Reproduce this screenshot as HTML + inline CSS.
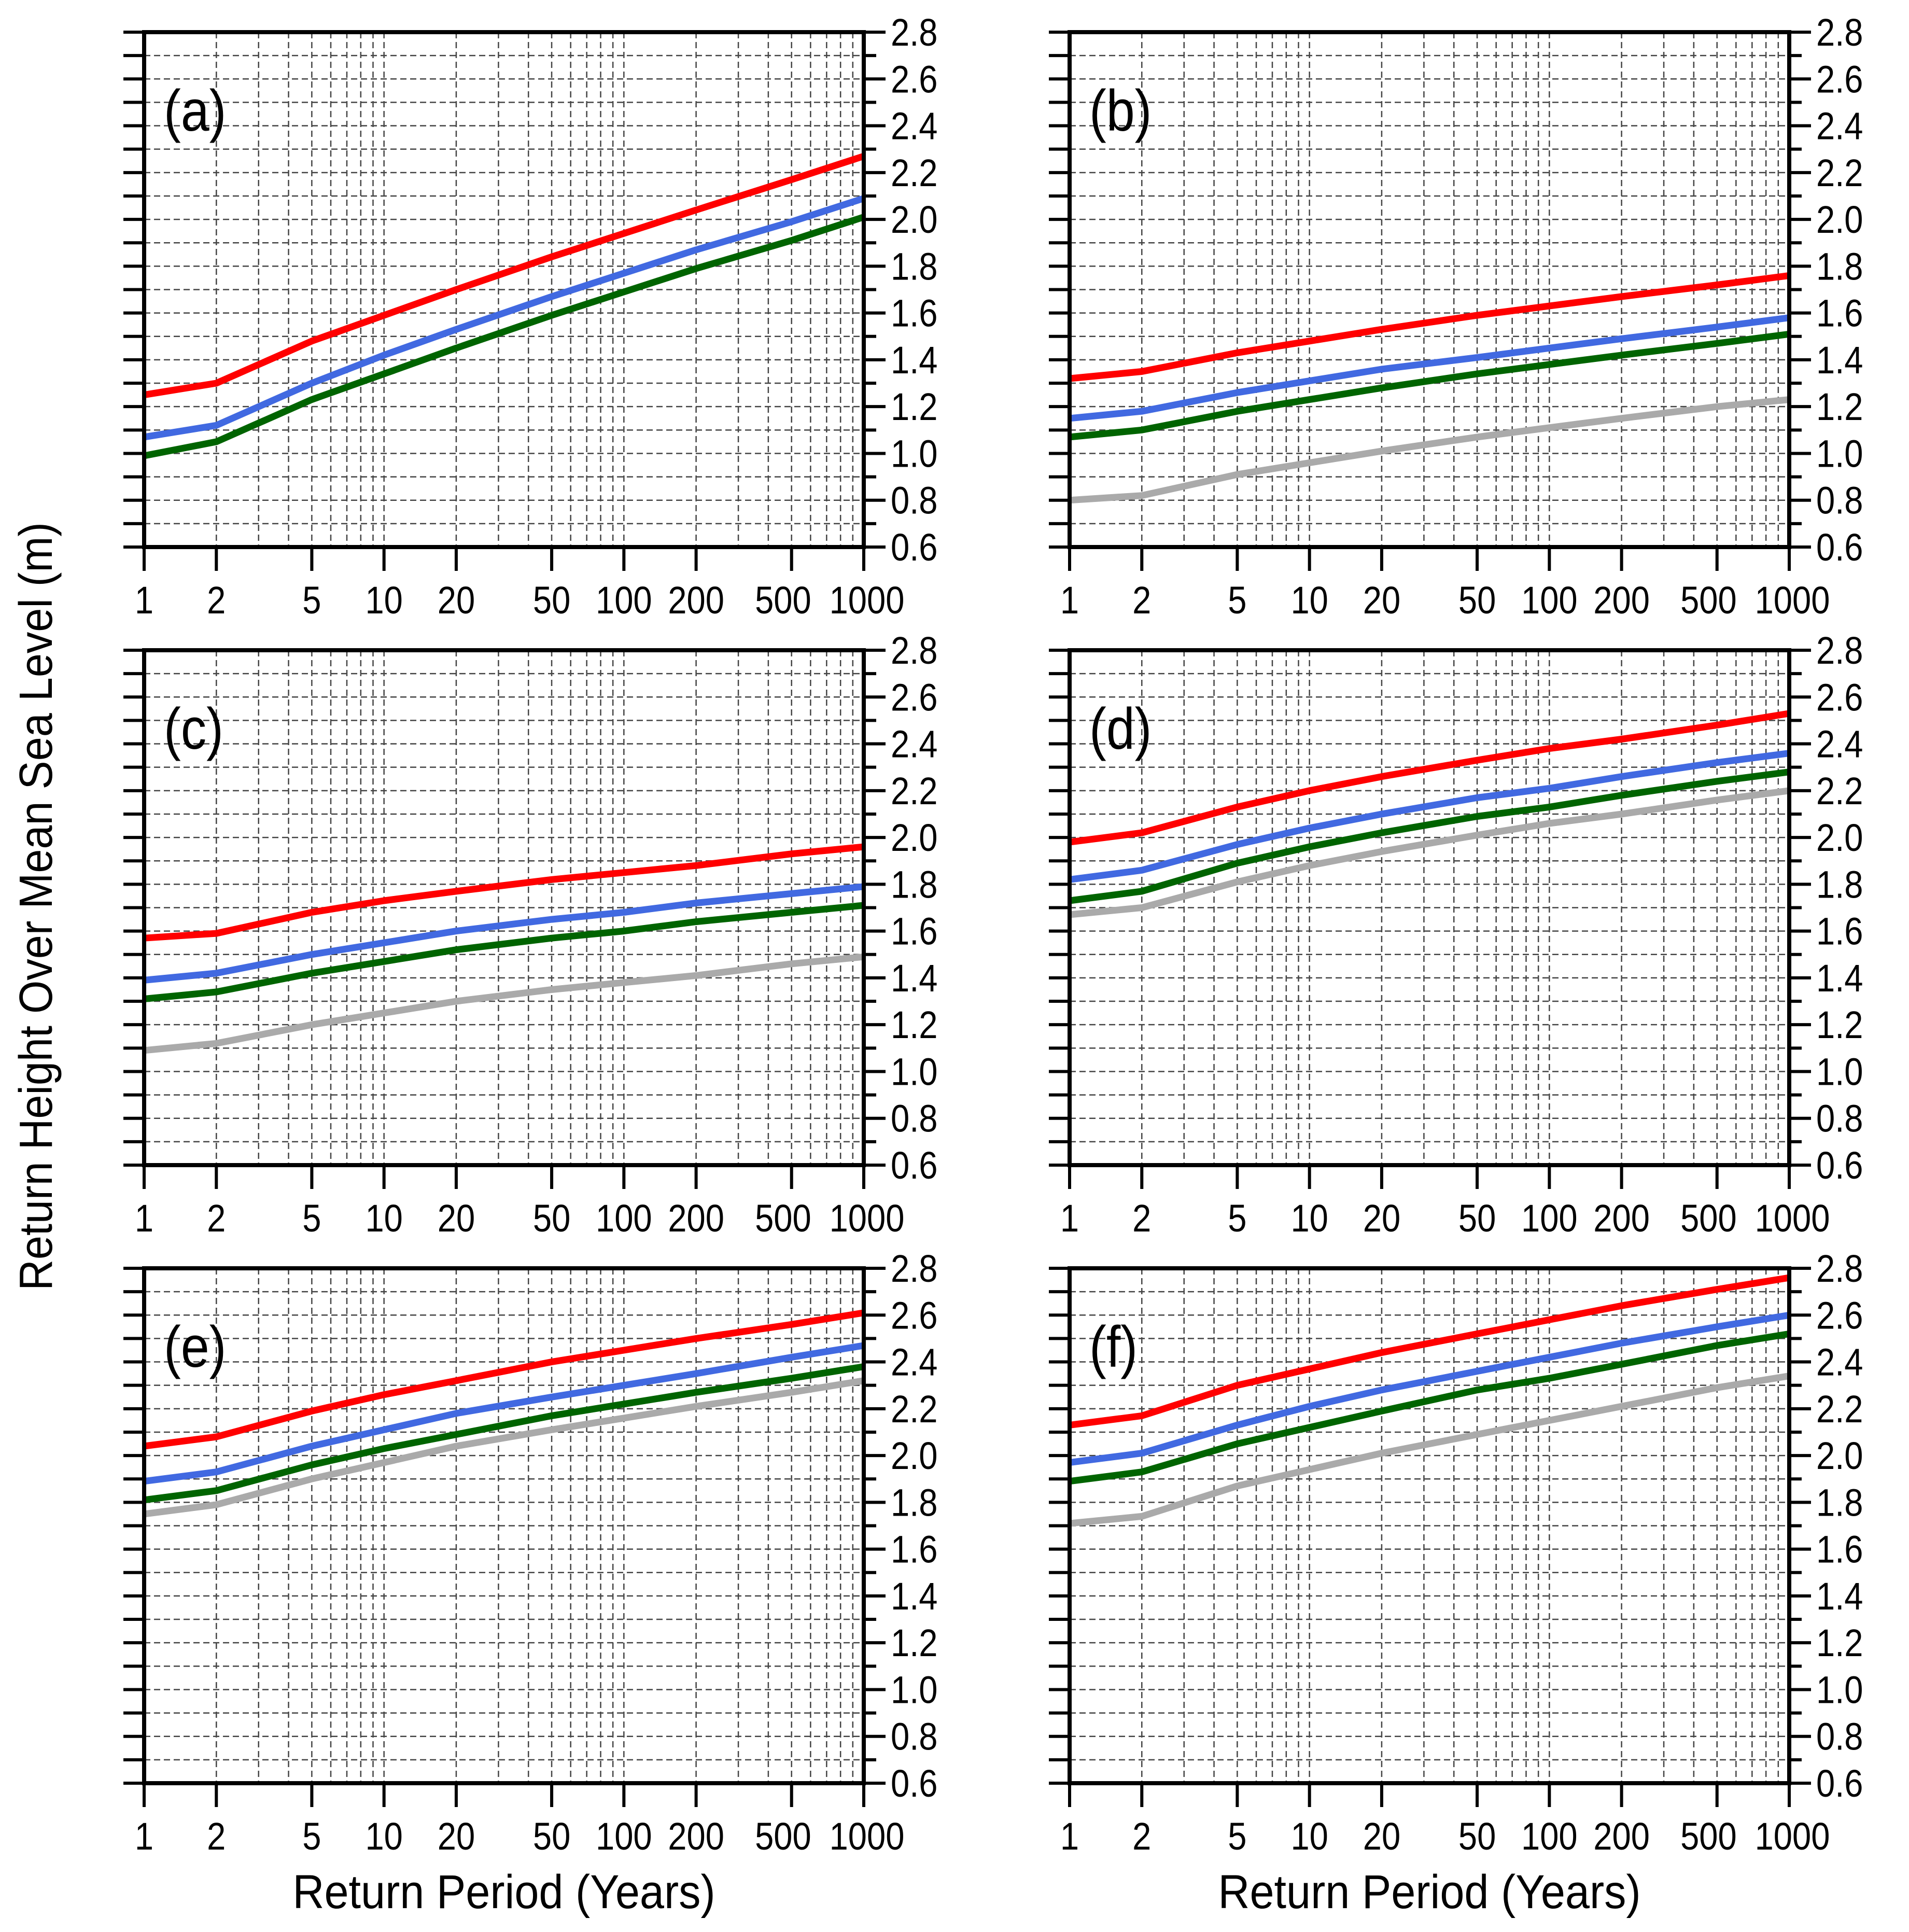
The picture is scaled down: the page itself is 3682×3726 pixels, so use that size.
<!DOCTYPE html>
<html><head><meta charset="utf-8"><style>
html,body{margin:0;padding:0;background:#fff;}
svg{display:block;}
text{font-family:"Liberation Sans",sans-serif;fill:#000;}
</style></head><body>
<svg id="fig" xmlns="http://www.w3.org/2000/svg" width="3682" height="3726" viewBox="0 0 3682 3726">
<text x="0" y="0" font-size="90" text-anchor="middle" transform="translate(100,1748) rotate(-90) scale(0.92,1)">Return Height Over Mean Sea Level (m)</text>
<text x="0" y="0" font-size="92" text-anchor="middle" transform="translate(972,3680) scale(0.92,1)">Return Period (Years)</text>
<text x="0" y="0" font-size="92" text-anchor="middle" transform="translate(2757,3680) scale(0.92,1)">Return Period (Years)</text>
</svg>
<script>
const periods = [1,2,5,10,20,50,100,200,500,1000];
const xTickLabels = [1,2,5,10,20,50,100,200,500,1000];
const yTickLabels = ["0.6","0.8","1.0","1.2","1.4","1.6","1.8","2.0","2.2","2.4","2.6","2.8"];
const panelLabels = ["(a)","(b)","(c)","(d)","(e)","(f)"];
const redA   = [1.25,1.30,1.48,1.59,1.70,1.84,1.94,2.04,2.17,2.27];
const blueA  = [1.07,1.12,1.30,1.42,1.53,1.67,1.77,1.87,1.99,2.09];
const greenA = [0.99,1.05,1.23,1.34,1.45,1.59,1.69,1.79,1.91,2.01];
const grayA  = null;
const redB   = [1.32,1.35,1.43,1.48,1.53,1.59,1.63,1.67,1.72,1.76];
const blueB  = [1.15,1.18,1.26,1.31,1.36,1.41,1.45,1.49,1.54,1.58];
const greenB = [1.07,1.10,1.18,1.23,1.28,1.34,1.38,1.42,1.47,1.51];
const grayB  = [0.80,0.82,0.91,0.96,1.01,1.07,1.11,1.15,1.20,1.23];
const redC   = [1.57,1.59,1.68,1.73,1.77,1.82,1.85,1.88,1.93,1.96];
const blueC  = [1.39,1.42,1.50,1.55,1.60,1.65,1.68,1.72,1.76,1.79];
const greenC = [1.31,1.34,1.42,1.47,1.52,1.57,1.60,1.64,1.68,1.71];
const grayC  = [1.09,1.12,1.20,1.25,1.30,1.35,1.38,1.41,1.46,1.49];
const redD   = [1.98,2.02,2.13,2.20,2.26,2.33,2.38,2.42,2.48,2.53];
const blueD  = [1.82,1.86,1.97,2.04,2.10,2.17,2.21,2.26,2.32,2.36];
const greenD = [1.73,1.77,1.89,1.96,2.02,2.09,2.13,2.18,2.24,2.28];
const grayD  = [1.67,1.70,1.81,1.88,1.94,2.01,2.06,2.10,2.16,2.20];
const redE   = [2.04,2.08,2.19,2.26,2.32,2.40,2.45,2.50,2.56,2.61];
const blueE  = [1.89,1.93,2.04,2.11,2.18,2.25,2.30,2.35,2.42,2.47];
const greenE = [1.81,1.85,1.96,2.03,2.09,2.17,2.22,2.27,2.33,2.38];
const grayE  = [1.75,1.79,1.90,1.97,2.04,2.11,2.16,2.21,2.27,2.32];
const redF   = [2.13,2.17,2.30,2.37,2.44,2.52,2.58,2.64,2.71,2.76];
const blueF  = [1.97,2.01,2.13,2.21,2.28,2.36,2.42,2.48,2.55,2.60];
const greenF = [1.89,1.93,2.05,2.12,2.19,2.28,2.33,2.39,2.47,2.52];
const grayF  = [1.71,1.74,1.87,1.94,2.01,2.09,2.15,2.21,2.29,2.34];

const NS="http://www.w3.org/2000/svg";
const svg=document.getElementById('fig');
function mk(tag,attrs,parent){const e=document.createElementNS(NS,tag);for(const k in attrs)e.setAttribute(k,attrs[k]);(parent||svg).appendChild(e);return e;}

const panels=[
 {lab:panelLabels[0],x0:278,y0:62,s:[[greenA,'#006400','green'],[blueA,'#4169e1','blue'],[redA,'#ff0000','red']]},
 {lab:panelLabels[1],x0:2063,y0:62,s:[[grayB,'#aaaaaa','gray'],[greenB,'#006400','green'],[blueB,'#4169e1','blue'],[redB,'#ff0000','red']]},
 {lab:panelLabels[2],x0:278,y0:1254,s:[[grayC,'#aaaaaa','gray'],[greenC,'#006400','green'],[blueC,'#4169e1','blue'],[redC,'#ff0000','red']]},
 {lab:panelLabels[3],x0:2063,y0:1254,s:[[grayD,'#aaaaaa','gray'],[greenD,'#006400','green'],[blueD,'#4169e1','blue'],[redD,'#ff0000','red']]},
 {lab:panelLabels[4],x0:278,y0:2446,s:[[grayE,'#aaaaaa','gray'],[greenE,'#006400','green'],[blueE,'#4169e1','blue'],[redE,'#ff0000','red']]},
 {lab:panelLabels[5],x0:2063,y0:2446,s:[[grayF,'#aaaaaa','gray'],[greenF,'#006400','green'],[blueF,'#4169e1','blue'],[redF,'#ff0000','red']]}
];
const W=1388,H=993,YMIN=0.6,YMAX=2.8;
panels.forEach((p,pi)=>{
  const g=mk('g',{});
  
  
  const xs=v=>p.x0+Math.log10(v)/3*W;
  const ys=v=>p.y0+H-(v-YMIN)/(YMAX-YMIN)*H;
  for(let dec=1;dec<=100;dec*=10){for(let m=1;m<10;m++){const v=m*dec;if(v<=1||v>=1000)continue;
    const l=mk('line',{x1:xs(v),x2:xs(v),y1:p.y0,y2:p.y0+H,stroke:'#444','stroke-width':2.5,'stroke-dasharray':'12,7'},g);
    
    }}
  for(let i=0;i<=22;i++){const v=YMIN+i*0.1;const y=ys(v);const major=i%2===0;
    if(i>0&&i<22){const l=mk('line',{x1:p.x0,x2:p.x0+W,y1:y,y2:y,stroke:'#444','stroke-width':2.5,'stroke-dasharray':'12,7'},g);
      
      }
    mk('line',{x1:p.x0-40,x2:p.x0,y1:y,y2:y,stroke:'#000','stroke-width':6},g);
    mk('line',{x1:p.x0+W,x2:p.x0+W+(major?42:24),y1:y,y2:y,stroke:'#000','stroke-width':6},g);
    if(major){const t=mk('text',{x:0,y:0,'font-size':74,transform:`translate(${p.x0+W+52},${y+26}) scale(0.88,1)`},g);t.textContent=yTickLabels[i/2];
      
      }
  }
  xTickLabels.forEach(v=>{const x=xs(v);
    mk('line',{x1:x,x2:x,y1:p.y0+H,y2:p.y0+H+46,stroke:'#000','stroke-width':6},g);
    let tx=x, anchor='middle';
    if(v===500){tx=x+38;anchor='end';}
    if(v===1000){tx=x+6;}
    const t=mk('text',{x:0,y:0,'font-size':74,'text-anchor':anchor,transform:`translate(${tx},${p.y0+H+128}) scale(0.88,1)`},g);
    t.textContent=v;
    
    
  });
  p.s.forEach(([arr,col,nm])=>{if(!arr)return;
    const pts=periods.map((v,i)=>xs(v).toFixed(1)+','+ys(arr[i]).toFixed(1)).join(' ');
    const pl=mk('polyline',{points:pts,fill:'none',stroke:col,'stroke-width':13,'stroke-linejoin':'round'},g);
    
    
  });
  const fr=mk('rect',{x:p.x0,y:p.y0,width:W,height:H,fill:'none',stroke:'#000','stroke-width':8},g);
  
  
  const lt=mk('text',{x:0,y:0,'font-size':112,transform:`translate(${p.x0+38},${p.y0+190}) scale(0.88,1)`},g);
  lt.textContent=p.lab;
  
  
});
</script>
</body></html>
